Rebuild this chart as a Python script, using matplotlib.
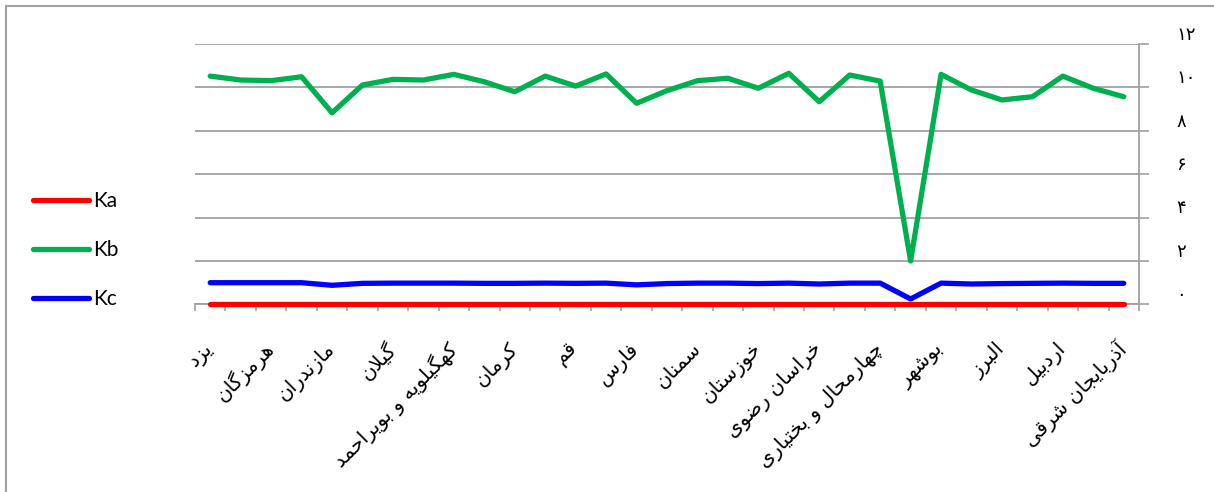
import numpy as np
import matplotlib
matplotlib.use("Agg")
import matplotlib.pyplot as plt
from matplotlib.lines import Line2D
from matplotlib.transforms import ScaledTranslation

# data (31 provinces, only every other one is labelled on the axis)
labels = ['یزد', '', 'هرمزگان', '', 'مازندران', '', 'گیلان', '',
          'کهگیلویه و بویراحمد', '', 'کرمان', '', 'قم', '', 'فارس', '',
          'سمنان', '', 'خوزستان', '', 'خراسان رضوی', '', 'چهارمحال و بختیاری', '',
          'بوشهر', '', 'البرز', '', 'اردبیل', '', 'آذربایجان شرقی']

ka = [0.0] * 31
kb = [10.52, 10.34, 10.31, 10.49, 8.83, 10.11, 10.37, 10.34, 10.60, 10.26,
      9.80, 10.52, 10.06, 10.62, 9.27, 9.85, 10.31, 10.42, 9.96, 10.65,
      9.34, 10.57, 10.29, 2.0, 10.60, 9.88, 9.42, 9.57, 10.52, 9.96, 9.57]
kc = [1.0, 1.0, 1.0, 1.0, 0.88, 0.97, 0.98, 0.98, 0.98, 0.97,
      0.97, 0.98, 0.97, 0.98, 0.90, 0.96, 0.98, 0.98, 0.96, 0.98,
      0.94, 0.98, 0.98, 0.25, 0.98, 0.94, 0.96, 0.97, 0.98, 0.97, 0.97]

yticks = [0, 2, 4, 6, 8, 10, 12]

# crude arabic/persian shaping, matplotlib has no complex text layout
FORMS = {
    'ا': (0xFE8D, 0xFE8E), 'آ': (0xFE81, 0xFE82), 'د': (0xFEA9, 0xFEAA),
    'ذ': (0xFEAB, 0xFEAC), 'ر': (0xFEAD, 0xFEAE), 'ز': (0xFEAF, 0xFEB0),
    'ژ': (0xFB8A, 0xFB8B), 'و': (0xFEED, 0xFEEE),
    'ب': (0xFE8F, 0xFE90, 0xFE91, 0xFE92), 'پ': (0xFB56, 0xFB57, 0xFB58, 0xFB59),
    'ت': (0xFE95, 0xFE96, 0xFE97, 0xFE98), 'ج': (0xFE9D, 0xFE9E, 0xFE9F, 0xFEA0),
    'چ': (0xFB7A, 0xFB7B, 0xFB7C, 0xFB7D), 'ح': (0xFEA1, 0xFEA2, 0xFEA3, 0xFEA4),
    'خ': (0xFEA5, 0xFEA6, 0xFEA7, 0xFEA8), 'س': (0xFEB1, 0xFEB2, 0xFEB3, 0xFEB4),
    'ش': (0xFEB5, 0xFEB6, 0xFEB7, 0xFEB8), 'ض': (0xFEBD, 0xFEBE, 0xFEBF, 0xFEC0),
    'ف': (0xFED1, 0xFED2, 0xFED3, 0xFED4), 'ق': (0xFED5, 0xFED6, 0xFED7, 0xFED8),
    'ک': (0xFB8E, 0xFB8F, 0xFB90, 0xFB91), 'گ': (0xFB92, 0xFB93, 0xFB94, 0xFB95),
    'ل': (0xFEDD, 0xFEDE, 0xFEDF, 0xFEE0), 'م': (0xFEE1, 0xFEE2, 0xFEE3, 0xFEE4),
    'ن': (0xFEE5, 0xFEE6, 0xFEE7, 0xFEE8), 'ه': (0xFEE9, 0xFEEA, 0xFEEB, 0xFEEC),
    'ی': (0xFBFC, 0xFBFD, 0xFBFE, 0xFBFF),
}
LAMALEF = {'ا': (0xFEFB, 0xFEFC), 'آ': (0xFEF5, 0xFEF6)}


def shape(s):
    # merge lam + alef first
    units = []
    i = 0
    while i < len(s):
        if s[i] == 'ل' and i + 1 < len(s) and s[i + 1] in LAMALEF:
            units.append(('LA', s[i + 1]))
            i += 2
        else:
            units.append((s[i], None))
            i += 1

    def joins_left(u):  # can connect to the following letter
        c = u[0]
        return c in FORMS and len(FORMS[c]) == 4

    def is_letter(u):
        return u[0] == 'LA' or u[0] in FORMS

    out = []
    for k, u in enumerate(units):
        prev_ok = k > 0 and joins_left(units[k - 1]) and is_letter(u)
        if u[0] == 'LA':
            f = LAMALEF[u[1]]
            out.append(chr(f[1] if prev_ok else f[0]))
            continue
        c = u[0]
        if c not in FORMS:
            out.append(c)
            continue
        f = FORMS[c]
        next_ok = len(f) == 4 and k + 1 < len(units) and is_letter(units[k + 1])
        if prev_ok and next_ok:
            out.append(chr(f[3]))
        elif next_ok:
            out.append(chr(f[2]))
        elif prev_ok:
            out.append(chr(f[1]))
        else:
            out.append(chr(f[0]))
    return ''.join(out[::-1])


def fa_digits(n):
    return ''.join(chr(0x06F0 + int(d)) for d in str(n))


plt.rcParams['font.family'] = ['DejaVu Sans']

fig = plt.figure(figsize=(12.14, 4.92), dpi=100)
ax = fig.add_axes([195 / 1214, 1 - 304.4 / 492, (1139 - 195) / 1214, (304.4 - 44) / 492])

x = np.arange(len(labels))
ax.plot(x, ka, color='#ff0000', lw=3.8, solid_capstyle='round', label='Ka', zorder=4, clip_on=False)
ax.plot(x, kb, color='#00b050', lw=3.8, solid_capstyle='round', label='Kb', zorder=3, clip_on=False)
ax.plot(x, kc, color='#0000ff', lw=3.8, solid_capstyle='round', label='Kc', zorder=3, clip_on=False)

ax.set_xlim(-0.5, len(labels) - 0.5)
ax.set_ylim(0, 12)

# y axis on the right with persian digits
ax.yaxis.tick_right()
ax.set_yticks(yticks)
ax.set_yticklabels([fa_digits(v) for v in yticks], fontsize=13)
ax.tick_params(axis='y', direction='out', length=7, width=1.2, color='#a0a0a0', pad=20)
for lab in ax.get_yticklabels():
    lab.set_horizontalalignment('left')
    lab.set_transform(lab.get_transform() + ScaledTranslation(0, 8 / 72, fig.dpi_scale_trans))
ax.grid(axis='y', color='#a0a0a0', lw=1.3)
ax.set_axisbelow(True)

# x axis: labels at centres, tick marks at boundaries
ax.set_xticks(x)
ax.set_xticklabels([shape(l) for l in labels], rotation=45, ha='right',
                   va='center', rotation_mode='anchor', fontsize=14.5)
ax.tick_params(axis='x', which='major', length=0, pad=30)
ax.set_xticks(np.arange(-0.5, len(labels), 1), minor=True)
ax.tick_params(axis='x', which='minor', direction='out', length=5, width=1.2, color='#a0a0a0')

for side in ['left', 'top']:
    ax.spines[side].set_visible(False)
ax.spines['bottom'].set_color('#a0a0a0')
ax.spines['right'].set_color('#a0a0a0')
ax.spines['bottom'].set_linewidth(1.3)
ax.spines['right'].set_linewidth(1.3)

fig.legend(loc='upper left', bbox_to_anchor=(33 / 1214, 1 - 191 / 492), frameon=False,
           prop={'family': 'Lato', 'size': 15}, handlelength=2.7, handletextpad=0.2,
           labelspacing=1.4, borderpad=0, borderaxespad=0)

# outer chart border (left and top only are visible)
fig.add_artist(Line2D([6 / 1214, 6 / 1214], [0, 1 - 6 / 492], color='#a0a0a0', lw=1.5))
fig.add_artist(Line2D([6 / 1214, 1], [1 - 6 / 492, 1 - 6 / 492], color='#a0a0a0', lw=1.5))

fig.savefig('out.png', dpi=100)
